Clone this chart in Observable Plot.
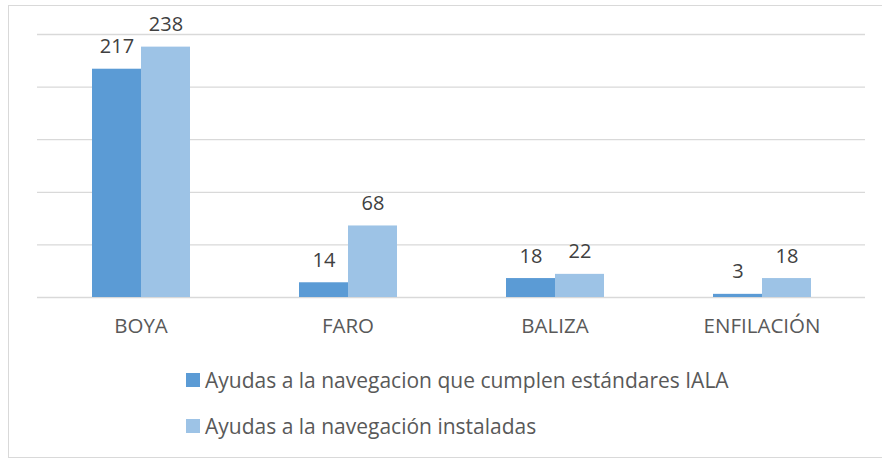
<!DOCTYPE html>
<html>
<head>
<meta charset="utf-8">
<script src="https://cdn.jsdelivr.net/npm/d3@7"></script>
<script src="https://cdn.jsdelivr.net/npm/@observablehq/plot@0.6"></script>
<style>
  html, body { margin: 0; padding: 0; background: #fff; }
  #wrap { position: relative; width: 882px; height: 461px; overflow: hidden; font-family: "Open Sans", sans-serif; }
  #frame { position: absolute; left: 8px; top: 5px; width: 884px; height: 453px; border: 1.5px solid #d9d9d9; box-sizing: border-box; }
  #chart { position: absolute; left: 0; top: 0; }
  .legend { position: absolute; left: 186px; display: flex; align-items: center; font-size: 21px; color: #595959; white-space: nowrap; }
  .legend .sw { width: 14px; height: 14px; margin-right: 5px; }
</style>
</head>
<body>
<div id="wrap">
  <div id="frame"></div>
  <div id="chart"></div>
  <div id="legend"></div>
</div>
<script>
const categories = ["BOYA", "FARO", "BALIZA", "ENFILACIÓN"];
const seriesNames = [
  "Ayudas a la navegacion que cumplen estándares IALA",
  "Ayudas a la navegación instaladas"
];
const cumplen = [217, 14, 18, 3];
const instaladas = [238, 68, 22, 18];
const colors = ["#5B9BD5", "#9DC3E6"];
const gridTicks = [0, 50, 100, 150, 200, 250];

const data = [];
categories.forEach((c, i) => {
  data.push({category: c, series: seriesNames[0], value: cumplen[i]});
  data.push({category: c, series: seriesNames[1], value: instaladas[i]});
});

const chart = Plot.plot({
  width: 882,
  height: 345,
  marginTop: 34,
  marginBottom: 48,
  marginLeft: 37,
  marginRight: 17,
  style: {fontFamily: "'Open Sans', sans-serif", background: "transparent"},
  fx: {domain: categories, paddingInner: 0, paddingOuter: 0, label: null},
  x: {domain: seriesNames, paddingInner: 0, paddingOuter: 1.11, axis: null},
  y: {domain: [0, 250], axis: null},
  color: {domain: seriesNames, range: colors},
  marks: [
    Plot.ruleY(gridTicks, {stroke: "#d9d9d9", strokeWidth: 1.3}),
    Plot.barY(data, {fx: "category", x: "series", y: "value", fill: "series"}),
    Plot.text(data, {fx: "category", x: "series", y: "value", text: d => String(d.value),
      lineAnchor: "bottom", dy: -16, fontSize: 20, fill: "#404040"}),
    Plot.axisFx({anchor: "bottom", tickSize: 0, tickPadding: 21, fontSize: 20.5, color: "#595959", label: null})
  ]
});
document.getElementById("chart").appendChild(chart);

const legend = document.getElementById("legend");
seriesNames.forEach((name, i) => {
  const row = document.createElement("div");
  row.className = "legend";
  row.style.top = (366 + i * 46) + "px";
  const sw = document.createElement("div");
  sw.className = "sw";
  sw.style.background = colors[i];
  const t = document.createElement("span");
  t.textContent = name;
  row.appendChild(sw);
  row.appendChild(t);
  legend.appendChild(row);
});
</script>
</body>
</html>
